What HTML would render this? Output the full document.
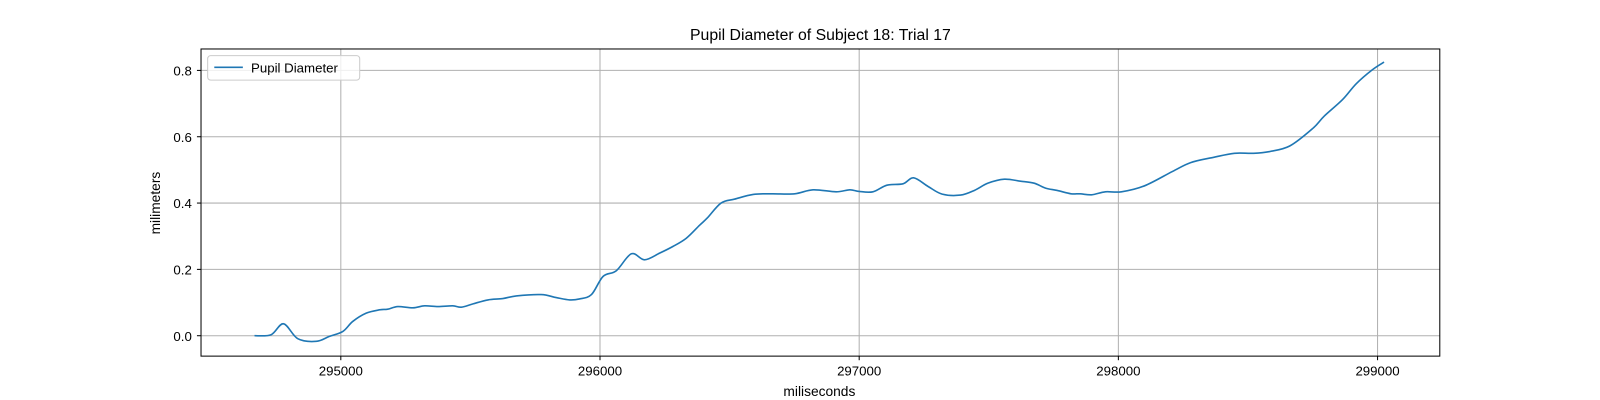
<!DOCTYPE html>
<html><head><meta charset="utf-8"><style>
html,body{margin:0;padding:0;width:1600px;height:400px;overflow:hidden;background:#fff}
svg{display:block;font-family:"Liberation Sans","DejaVu Sans",sans-serif}
</style></head><body>
<svg id="chart" width="1600" height="400" viewBox="0 0 1568 392" style="width:1600px;height:400px">
<rect x="0" y="0" width="1568" height="392" fill="#fff"/>
<text x="804" y="39" font-size="15.5" text-anchor="middle">Pupil Diameter of Subject 18: Trial 17</text>
<g id="grid"></g>
<g id="ticks"></g>
<path id="line" fill="none" stroke="#1f77b4" stroke-width="1.6" stroke-linejoin="round"/>
<rect x="197" y="48" width="1214" height="301" fill="none" stroke="#000" stroke-width="1"/>
<text x="803" y="388" font-size="13.5" text-anchor="middle">miliseconds</text>
<text x="157" y="199" font-size="13.5" text-anchor="middle" transform="rotate(-90 157 199)">milimeters</text>
<g>
<rect x="203.5" y="54.5" width="149" height="24" rx="3" fill="#fff" fill-opacity="0.8" stroke="#ccc"/>
<line x1="210" y1="66" x2="238" y2="66" stroke="#1f77b4" stroke-width="1.6"/>
<text x="246" y="71" font-size="13">Pupil Diameter</text>
</g>
</svg>
<script>
const timesMs=[294667,294731,294779,294834,294905,294956,295008,295046,295098,295149,295181,295220,295278,295323,295375,295432,295465,295510,295568,295625,295677,295773,295831,295883,295921,295967,296012,296063,296121,296172,296230,296281,296333,296384,296414,296467,296520,296591,296663,296751,296822,296911,296964,297000,297053,297107,297169,297210,297266,297320,297391,297444,297497,297560,297622,297675,297719,297764,297817,297853,297897,297950,298012,298101,298208,298279,298368,298448,298519,298581,298661,298750,298794,298865,298918,298980,299025];
const diameters=[0,0.003,0.036,-0.009,-0.017,-0.002,0.013,0.043,0.068,0.078,0.08,0.088,0.084,0.09,0.088,0.09,0.086,0.096,0.108,0.112,0.12,0.124,0.115,0.108,0.111,0.124,0.179,0.196,0.247,0.229,0.249,0.269,0.294,0.333,0.355,0.40,0.412,0.426,0.428,0.428,0.44,0.434,0.44,0.435,0.434,0.454,0.458,0.476,0.45,0.427,0.424,0.438,0.46,0.472,0.466,0.46,0.445,0.438,0.428,0.428,0.425,0.434,0.434,0.452,0.495,0.522,0.538,0.55,0.55,0.555,0.572,0.625,0.662,0.712,0.76,0.802,0.825];
const xTicks=[295000,296000,297000,298000,299000];
const yTicks=[0.0,0.2,0.4,0.6,0.8];
const yTickLabels=["0.0","0.2","0.4","0.6","0.8"];
const X=v=>334+(v-295000)*0.254;
const Y=v=>329-v*325;
const NS="http://www.w3.org/2000/svg";
const grid=document.getElementById('grid'),ticks=document.getElementById('ticks');
function mk(tag,attrs,parent){const e=document.createElementNS(NS,tag);for(const k in attrs)e.setAttribute(k,attrs[k]);parent.appendChild(e);return e;}
xTicks.forEach(t=>{
 const x=X(t);
 const g=mk('line',{x1:x,x2:x,y1:48,y2:349,stroke:'#b0b0b0','stroke-width':1},grid);
 
 
 const tk=mk('line',{x1:x,x2:x,y1:349,y2:353,stroke:'#000'},ticks);
 
 
 const tx=mk('text',{x:x,y:368,'font-size':13,'text-anchor':'middle'},ticks);
 tx.textContent=t;
 
 
});
yTicks.forEach((t,i)=>{
 const y=Y(t);
 const g=mk('line',{x1:197,x2:1411,y1:y,y2:y,stroke:'#b0b0b0','stroke-width':1},grid);
 
 
 const tk=mk('line',{x1:193,x2:197,y1:y,y2:y,stroke:'#000'},ticks);
 
 
 const tx=mk('text',{x:188,y:y+5,'font-size':13,'text-anchor':'end'},ticks);
 tx.textContent=yTickLabels[i];
 
 
});
const pts=timesMs.map((t,i)=>[X(t),Y(diameters[i])]);
let d='M'+pts[0][0]+','+pts[0][1];
for(let i=0;i<pts.length-1;i++){
 const p0=pts[Math.max(0,i-1)],p1=pts[i],p2=pts[i+1],p3=pts[Math.min(pts.length-1,i+2)];
 const c1x=p1[0]+(p2[0]-p0[0])/6,c1y=p1[1]+(p2[1]-p0[1])/6;
 const c2x=p2[0]-(p3[0]-p1[0])/6,c2y=p2[1]-(p3[1]-p1[1])/6;
 d+=` C${c1x},${c1y} ${c2x},${c2y} ${p2[0]},${p2[1]}`;
}
document.getElementById('line').setAttribute('d',d);
</script>
</body></html>
